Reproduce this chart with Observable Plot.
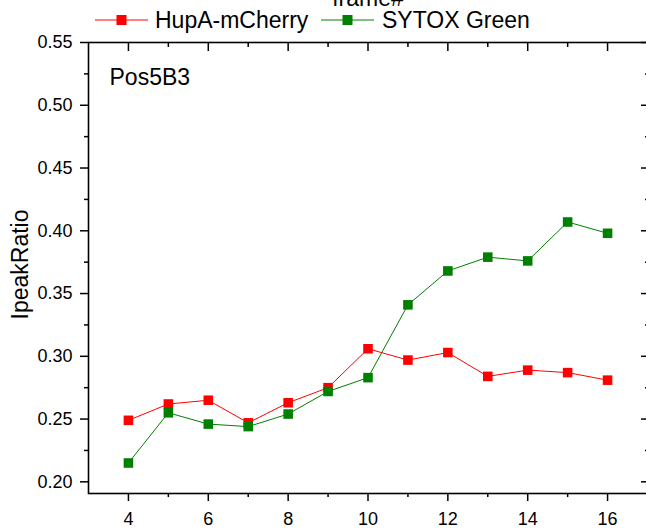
<!DOCTYPE html>
<html><head><meta charset="utf-8">
<script src="https://cdn.jsdelivr.net/npm/d3@7"></script>
<script src="https://cdn.jsdelivr.net/npm/@observablehq/plot@0.6"></script>
<style>
body{margin:0;background:#fff;}
#wrap{position:relative;width:646px;height:529px;overflow:hidden;font-family:"Liberation Sans",Arial,sans-serif;}
#legend{position:absolute;left:0;top:0;}
</style></head><body><div id="wrap"></div>
<script>
const frames = [4, 5, 6, 7, 8, 9, 10, 11, 12, 13, 14, 15, 16];
const hupA = [0.249, 0.262, 0.265, 0.247, 0.263, 0.275, 0.306, 0.297, 0.303, 0.284, 0.289, 0.287, 0.281];
const sytox = [0.215, 0.255, 0.246, 0.244, 0.254, 0.272, 0.283, 0.341, 0.368, 0.379, 0.376, 0.407, 0.398];
const seriesNames = ["HupA-mCherry", "SYTOX Green"];
const seriesColors = ["#ff0000", "#008000"];
const yMajor = [0.20, 0.25, 0.30, 0.35, 0.40, 0.45, 0.50, 0.55];
const yMinor = [0.225, 0.275, 0.325, 0.375, 0.425, 0.475, 0.525];
const xMajor = [4, 6, 8, 10, 12, 14, 16];
const xMinor = [5, 7, 9, 11, 13, 15];
const xTitle = "frame#";
const yTitle = "IpeakRatio";
const panelLabel = "Pos5B3";

const seriesValues = [hupA, sytox];
const rows = seriesNames.map((name, s) => frames.map((f, i) => ({frame: f, value: seriesValues[s][i], series: name})));

const font = "Liberation Sans, Arial, sans-serif";
const seriesMarks = rows.flatMap((data, s) => [
  Plot.line(data, {x: "frame", y: "value", stroke: seriesColors[s], strokeWidth: 1}),
  Plot.dot(data, {x: "frame", y: "value", symbol: "square", r: 5.4, fill: seriesColors[s], stroke: "none"})
]);

const chart = Plot.plot({
  width: 646, height: 529,
  marginLeft: 88, marginRight: -1, marginTop: 42, marginBottom: 36,
  x: {domain: [3, 17]},
  y: {domain: [0.1907, 0.55]},
  style: {fontFamily: font, fontSize: "18px", color: "#000", background: "#fff", overflow: "visible"},
  marks: [
    Plot.axisY(yMajor, {anchor: "left", tickSize: 8, tickPadding: 8, tickFormat: d3.format(".2f"), label: null, strokeWidth: 1.5}),
    Plot.axisY(yMinor, {anchor: "left", tickSize: 4, fill: "none", label: null, strokeWidth: 1.5}),
    Plot.axisY(yMajor, {anchor: "right", tickSize: 7, insetRight: 7, fill: "none", label: null, strokeWidth: 1.5}),
    Plot.axisY(yMinor, {anchor: "right", tickSize: 3, insetRight: 3, fill: "none", label: null, strokeWidth: 1.5}),
    Plot.axisX(xMajor, {anchor: "bottom", tickSize: 8, tickPadding: 11, label: null, strokeWidth: 1.5}),
    Plot.axisX(xMinor, {anchor: "bottom", tickSize: 4, fill: "none", label: null, strokeWidth: 1.5}),
    Plot.axisX(xMajor, {anchor: "top", tickSize: 8, insetTop: 8, fill: "none", label: null, strokeWidth: 1.5}),
    Plot.axisX(xMinor, {anchor: "top", tickSize: 4, insetTop: 4, fill: "none", label: null, strokeWidth: 1.5}),
    Plot.frame({stroke: "#000", strokeWidth: 1.6}),
    ...seriesMarks,
    Plot.text([panelLabel], {text: d => d, frameAnchor: "top-left", dx: 21, dy: 42, lineAnchor: "bottom", textAnchor: "start", fontSize: 23}),
    Plot.text([yTitle], {text: d => d, frameAnchor: "left", rotate: -90, dx: -61, dy: -3.5, textAnchor: "middle", lineAnchor: "bottom", fontSize: 23}),
    Plot.text([xTitle], {text: d => d, frameAnchor: "top", dy: -37, lineAnchor: "bottom", textAnchor: "middle", fontSize: 23})
  ]
});
const wrap = document.getElementById("wrap");
wrap.appendChild(chart);

// legend overlay
const legendX = [95, 321];
const legendTextX = [155, 382];
const lg = d3.select(wrap).append("svg").attr("id", "legend").attr("width", 646).attr("height", 40)
  .style("font-family", font);
seriesNames.forEach((name, s) => {
  const x0 = legendX[s];
  lg.append("line").attr("x1", x0).attr("x2", x0 + 53).attr("y1", 20).attr("y2", 20)
    .attr("stroke", seriesColors[s]).attr("stroke-width", 1);
  lg.append("rect").attr("x", x0 + 26.5 - 5).attr("y", 15).attr("width", 10).attr("height", 10)
    .attr("fill", seriesColors[s]);
  lg.append("text").attr("x", legendTextX[s]).attr("y", 28).attr("font-size", 23).attr("fill", "#000").text(name);
});
</script></body></html>
